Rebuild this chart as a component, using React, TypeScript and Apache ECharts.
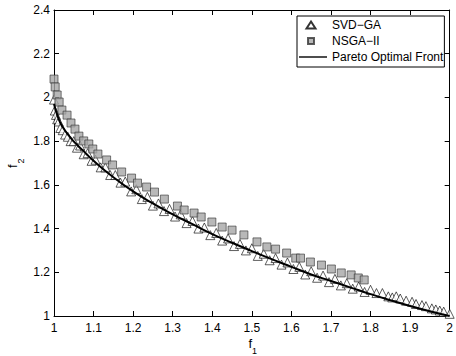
import React, { useEffect, useRef } from "react";
import * as echarts from "echarts";

const paretoF1 = [1.0, 1.01, 1.02, 1.04, 1.06, 1.08, 1.1, 1.15, 1.2, 1.25, 1.3, 1.35, 1.4, 1.45, 1.5, 1.55, 1.6, 1.65, 1.7, 1.75, 1.8, 1.85, 1.9, 1.95, 2.0];
const paretoF2 = [1.97, 1.91, 1.87, 1.82, 1.78, 1.745, 1.71, 1.635, 1.57, 1.515, 1.465, 1.42, 1.375, 1.335, 1.297, 1.26, 1.225, 1.19, 1.16, 1.13, 1.1, 1.072, 1.046, 1.022, 1.0];

const svdF1 = [1.0, 1.002, 1.005, 1.008, 1.012, 1.016, 1.022, 1.028, 1.035, 1.042, 1.05, 1.058, 1.066, 1.075, 1.085, 1.095, 1.105, 1.118, 1.13, 1.142, 1.155, 1.168, 1.18, 1.195, 1.208, 1.222, 1.236, 1.25, 1.264, 1.278, 1.292, 1.306, 1.32, 1.335, 1.35, 1.365, 1.38, 1.395, 1.41, 1.425, 1.44, 1.455, 1.47, 1.485, 1.5, 1.515, 1.53, 1.545, 1.56, 1.575, 1.59, 1.605, 1.62, 1.635, 1.65, 1.665, 1.68, 1.695, 1.71, 1.725, 1.74, 1.755, 1.77, 1.785, 1.8, 1.815, 1.83, 1.845, 1.855, 1.865, 1.875, 1.89, 1.905, 1.915, 1.93, 1.94, 1.955, 1.965, 1.975, 1.985, 2.0];
const svdF2 = [1.99, 1.94, 1.92, 1.9, 1.89, 1.86, 1.85, 1.83, 1.82, 1.8, 1.8, 1.77, 1.78, 1.74, 1.745, 1.71, 1.715, 1.68, 1.68, 1.645, 1.645, 1.61, 1.615, 1.57, 1.58, 1.535, 1.545, 1.505, 1.515, 1.48, 1.49, 1.455, 1.465, 1.425, 1.435, 1.4, 1.405, 1.37, 1.38, 1.345, 1.355, 1.32, 1.33, 1.3, 1.31, 1.275, 1.285, 1.255, 1.265, 1.235, 1.245, 1.215, 1.225, 1.19, 1.205, 1.175, 1.185, 1.155, 1.17, 1.14, 1.15, 1.125, 1.135, 1.11, 1.12, 1.105, 1.105, 1.09, 1.085, 1.09, 1.08, 1.07, 1.065, 1.055, 1.05, 1.045, 1.035, 1.03, 1.025, 1.02, 1.01];

const nsgaF1 = [1.0, 1.003, 1.008, 1.013, 1.02, 1.033, 1.043, 1.053, 1.063, 1.075, 1.088, 1.098, 1.111, 1.133, 1.148, 1.171, 1.196, 1.211, 1.234, 1.254, 1.279, 1.312, 1.329, 1.354, 1.372, 1.399, 1.425, 1.45, 1.48, 1.513, 1.538, 1.56, 1.588, 1.611, 1.623, 1.648, 1.676, 1.701, 1.726, 1.751, 1.769, 1.784];
const nsgaF2 = [2.084, 2.048, 2.011, 1.979, 1.942, 1.919, 1.883, 1.855, 1.823, 1.801, 1.787, 1.764, 1.741, 1.714, 1.691, 1.659, 1.631, 1.608, 1.59, 1.567, 1.535, 1.503, 1.485, 1.471, 1.453, 1.43, 1.407, 1.393, 1.371, 1.339, 1.316, 1.306, 1.288, 1.265, 1.265, 1.247, 1.233, 1.215, 1.197, 1.188, 1.174, 1.165];

const seriesNames = ["SVD\u2212GA", "NSGA\u2212II", "Pareto Optimal Front"];

const zip = (a: number[], b: number[]) => a.map((v, i) => [v, b[i]]);
const fmt = (v: number) => String(+v.toFixed(1));

export default function App() {
  const ref = useRef<HTMLDivElement>(null);
  useEffect(() => {
    if (!ref.current) return;
    const chart = echarts.init(ref.current, null, { renderer: "svg" });
    const font = "'Liberation Sans', Arial, Helvetica, sans-serif";
    const axisCommon = {
      axisLine: { show: true, onZero: false, lineStyle: { color: "#000", width: 1 } },
      axisTick: { show: true, inside: true, length: 5, lineStyle: { color: "#000" } },
      splitLine: { show: false },
    };
    const txt = (text: string, x: number, y: number, size: number) => ({
      type: "text",
      x,
      y,
      style: { text, x: 0, y: 0, fontSize: size, fontFamily: font, fill: "#000", verticalAlign: "top", textVerticalAlign: "top" },
    });
    chart.setOption({
      animation: false,
      backgroundColor: "#fff",
      textStyle: { fontFamily: font },
      grid: { left: 54, right: 4, top: 10, bottom: 40 },
      xAxis: [
        {
          type: "value", min: 1, max: 2, interval: 0.1, position: "bottom",
          ...axisCommon,
          axisLabel: { color: "#000", fontSize: 12, fontFamily: font, margin: 6, formatter: fmt },
        },
        {
          type: "value", min: 1, max: 2, interval: 0.1, position: "top",
          ...axisCommon,
          axisLabel: { show: false },
        },
      ],
      yAxis: [
        {
          type: "value", min: 1, max: 2.4, interval: 0.2, position: "left",
          ...axisCommon,
          axisLabel: { color: "#000", fontSize: 12, fontFamily: font, margin: 4, formatter: fmt },
        },
        {
          type: "value", min: 1, max: 2.4, interval: 0.2, position: "right",
          ...axisCommon,
          axisLabel: { show: false },
        },
      ],
      legend: {
        orient: "vertical",
        left: 297,
        top: 16,
        padding: [2, 1, 3, 1],
        itemWidth: 28,
        itemHeight: 10,
        itemGap: 2,
        borderColor: "#000",
        borderWidth: 1,
        borderRadius: 0,
        backgroundColor: "#fff",
        textStyle: { color: "#000", fontSize: 12, lineHeight: 14, fontFamily: font },
        data: [
          { name: seriesNames[0], icon: "path://M0,0 M28,10 M12,1.5 L16.5,8.5 L7.5,8.5 Z" },
          { name: seriesNames[1], icon: "path://M0,0 M28,10 M9,2 L15,2 L15,8 L9,8 Z" },
          { name: seriesNames[2], icon: "path://M0,0 M28,10 M0,4.3 L28,4.3 L28,5.7 L0,5.7 Z" },
        ],
      },
      series: [
        {
          name: seriesNames[0],
          type: "scatter",
          symbol: "triangle",
          symbolSize: 9,
          itemStyle: { color: "#fff", borderColor: "#000", borderWidth: 0.8 },
          data: zip(svdF1, svdF2),
          z: 2,
        },
        {
          name: seriesNames[1],
          type: "scatter",
          symbol: "rect",
          symbolSize: 8,
          itemStyle: { color: "#a6a6a6", borderColor: "#333", borderWidth: 0.8 },
          data: zip(nsgaF1, nsgaF2),
          z: 3,
        },
        {
          name: seriesNames[2],
          type: "line",
          showSymbol: false,
          symbol: "none",
          smooth: true,
          lineStyle: { color: "#000", width: 2 },
          itemStyle: { color: "#000" },
          data: zip(paretoF1, paretoF2),
          z: 4,
        },
      ],
      graphic: [
        txt("f", 248.5, 336.5, 13),
        txt("1", 252, 346, 9),
        {
          type: "group",
          x: 6,
          y: 168,
          rotation: Math.PI / 2,
          children: [txt("f", 0, 0, 13), txt("2", 4.5, 10, 9)],
        },
      ],
    });
    return () => chart.dispose();
  }, []);
  return <div ref={ref} style={{ position: "fixed", left: 0, top: 0, width: 456, height: 356 }} />;
}
